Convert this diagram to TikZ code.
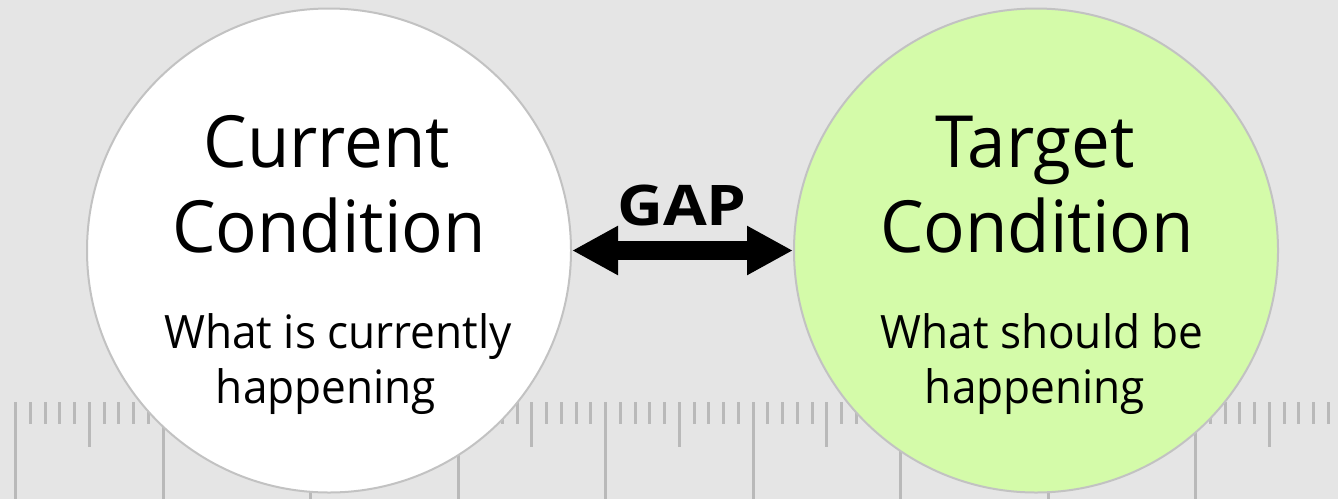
\documentclass[tikz,border=0pt]{standalone}
\usepackage{fontspec}
\setmainfont{Open Sans}[FakeStretch=0.96]
\usetikzlibrary{arrows.meta}
\definecolor{bgcol}{HTML}{E5E5E5}
\definecolor{tickcol}{HTML}{B9B9B9}
\definecolor{rimcol}{HTML}{C2C2C2}
\definecolor{greenfill}{HTML}{D4FBA9}
\tikzset{
  tick/.style={draw=tickcol, line width=3pt},
  cond/.style={circle, draw=rimcol, line width=2pt, minimum size=484pt, inner sep=0pt},
  bigtxt/.style={anchor=base, inner sep=0pt, font=\fontsize{72}{80}\selectfont},
  smalltxt/.style={anchor=base, inner sep=0pt, font=\fontsize{46}{52}\selectfont},
  gaptxt/.style={anchor=base, inner sep=0pt, font=\fontsize{56}{60}\selectfont\bfseries},
  gaparrow/.style={line width=19pt, {Triangle[length=46pt,width=46pt]}-{Triangle[length=46pt,width=46pt]}}
}
\begin{document}
\begin{tikzpicture}[x=1pt,y=-1pt]
\fill[bgcol] (0,0) rectangle (1338,499);
\useasboundingbox (0,0) rectangle (1338,499);
% ruler
\foreach \i in {0,...,89} {
  \draw[tick] ({15.5+14.75*\i},402) -- ({15.5+14.75*\i},424);
}
\foreach \i in {0,...,8} {
  \draw[tick] ({15.5+73.75+147.5*\i},402) -- ({15.5+73.75+147.5*\i},447);
  \draw[tick] ({15.5+147.5*\i},402) -- ({15.5+147.5*\i},499);
}
% circles
\node[cond, fill=white] (c1) at (329,250.5) {};
\node[cond, fill=greenfill] (c2) at (1036,250.5) {};
% texts
\node[bigtxt] (t1a) at (327,167) {Current};
\node[bigtxt] (t1b) at (329,252) {Condition};
\node[smalltxt] (s1a) at (338,348) {What is currently};
\node[smalltxt] (s1b) at (326,403) {happening};
\node[bigtxt] (t2a) at (1035,167) {Target};
\node[bigtxt] (t2b) at (1037,252) {Condition};
\node[smalltxt] (s2a) at (1042,348) {What should be};
\node[smalltxt] (s2b) at (1035,403) {happening};
% gap
\draw[gaparrow] (c1.east) -- (c2.west);
\node[gaptxt] (gap) at (682,225) {\scalebox{1.18}[1]{GAP}};
\end{tikzpicture}
\end{document}
